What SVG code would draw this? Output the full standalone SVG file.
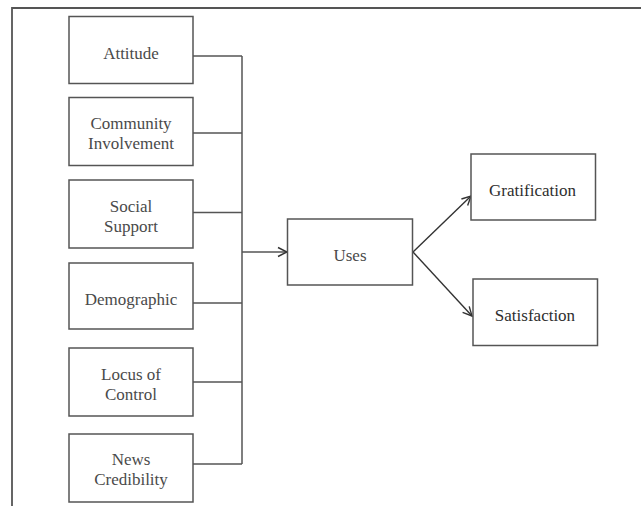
<svg xmlns="http://www.w3.org/2000/svg" width="641" height="506" viewBox="0 0 641 506">
<defs>
<style>
.box{fill:#fff;stroke:#555;stroke-width:1.5}
.t{font-family:"Liberation Serif","Times New Roman",serif;font-size:17px;fill:#4a4a4a;text-anchor:middle}
.d{fill:#2e2e2e}
.c{fill:none;stroke:#555;stroke-width:1.5}
.a{fill:none;stroke:#333;stroke-width:1.4}
</style>
<marker id="arr" markerWidth="12" markerHeight="12" refX="10" refY="6" orient="auto" markerUnits="userSpaceOnUse">
<path d="M1,1.5 L10,6 L1,10.5" fill="none" stroke="#333" stroke-width="1.4"/>
</marker>
</defs>
<rect width="641" height="506" fill="#fff"/>
<path d="M12,520 L12,8 L660,8" fill="none" stroke="#555" stroke-width="1.8"/>
<g id="connectors">
<path class="c" d="M193,56 H242 M193,133 H242 M193,212.5 H242 M193,303 H242 M193,382 H242 M193,464 H242 M242,56 V464"/>
<path class="c" d="M242,252 H287" marker-end="url(#arr)"/>
<path class="a" d="M413,252 L471,196" marker-end="url(#arr)"/>
<path class="a" d="M413,252 L472,316" marker-end="url(#arr)"/>
</g>
<g id="attitude"><rect class="box" x="69" y="16.5" width="124" height="67"/><text class="t" x="131" y="59">Attitude</text></g>
<g id="community"><rect class="box" x="69" y="97.5" width="124" height="68"/><text class="t" x="131" y="129">Community</text><text class="t" x="131" y="149">Involvement</text></g>
<g id="social"><rect class="box" x="69" y="180" width="124" height="68"/><text class="t" x="131" y="211.5">Social</text><text class="t" x="131" y="231.5">Support</text></g>
<g id="demographic"><rect class="box" x="69" y="263" width="124" height="66"/><text class="t" x="131" y="305">Demographic</text></g>
<g id="locus"><rect class="box" x="69" y="348" width="124" height="68"/><text class="t" x="131" y="379.5">Locus of</text><text class="t" x="131" y="399.5">Control</text></g>
<g id="news"><rect class="box" x="69" y="434" width="124" height="68"/><text class="t" x="131" y="464.5">News</text><text class="t" x="131" y="485">Credibility</text></g>
<g id="uses"><rect class="box" x="287.5" y="219" width="125" height="66"/><text class="t" x="350" y="260.5">Uses</text></g>
<g id="gratification"><rect class="box" x="471" y="154" width="124.5" height="66"/><text class="t d" x="532.5" y="196">Gratification</text></g>
<g id="satisfaction"><rect class="box" x="473" y="279" width="124.5" height="66.5"/><text class="t d" x="535" y="321">Satisfaction</text></g>
</svg>
